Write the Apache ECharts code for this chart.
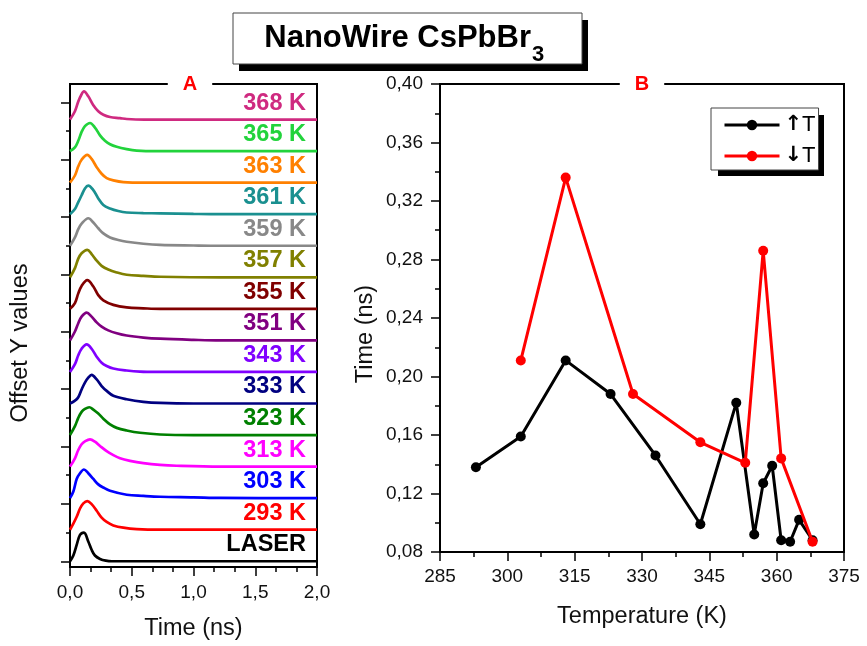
<!DOCTYPE html>
<html>
<head>
<meta charset="utf-8">
<script src="https://cdn.jsdelivr.net/npm/echarts@6/dist/echarts.min.js"></script>
<style>
html,body{margin:0;padding:0;background:#fff;}
#chart{width:867px;height:646px;}
</style>
</head>
<body>
<div id="chart"></div>
<script>
// ---------------- DATA ----------------
// Panel A: normalized decay curves [time (ns), normalized intensity]
const curveNames = ['LASER','293 K','303 K','313 K','323 K','333 K','343 K','351 K','355 K','357 K','359 K','361 K','363 K','365 K','368 K'];
const curveLASER = [[0,0],[0.027,0.2],[0.054,0.57],[0.081,0.92],[0.113,1.0],[0.148,0.69],[0.175,0.40],[0.202,0.2],[0.243,0.08],[0.29,0.02],[0.34,0],[2,0]];
const curve293 = [[0,0],[0.027,0.21],[0.054,0.45],[0.081,0.74],[0.108,0.92],[0.14,1.0],[0.175,0.89],[0.216,0.66],[0.256,0.42],[0.297,0.27],[0.351,0.15],[0.432,0.07],[0.54,0.02],[0.73,0],[2,0]];
const curve303 = [[0,0],[0.027,0.23],[0.054,0.67],[0.081,0.87],[0.113,1.0],[0.148,0.87],[0.189,0.67],[0.229,0.48],[0.27,0.37],[0.324,0.26],[0.459,0.12],[0.594,0.08],[0.729,0.05],[1.0,0.03],[1.22,0.01],[2,0]];
const curve313 = [[0,0],[0.04,0.29],[0.067,0.58],[0.094,0.78],[0.121,0.88],[0.162,0.95],[0.202,0.87],[0.243,0.72],[0.297,0.54],[0.351,0.40],[0.405,0.29],[0.486,0.20],[0.594,0.12],[0.729,0.06],[0.864,0.03],[1.215,0],[2,0]];
const curve323 = [[0,0],[0.04,0.31],[0.067,0.60],[0.094,0.81],[0.121,0.91],[0.156,0.97],[0.189,0.89],[0.229,0.75],[0.27,0.57],[0.324,0.37],[0.378,0.25],[0.459,0.16],[0.567,0.08],[0.729,0.02],[1.0,0],[2,0]];
const curve333 = [[0,0],[0.04,0.1],[0.067,0.22],[0.094,0.49],[0.121,0.73],[0.148,0.9],[0.175,1.0],[0.216,0.84],[0.256,0.61],[0.297,0.44],[0.351,0.27],[0.459,0.15],[0.594,0.06],[0.729,0.02],[1.0,0],[2,0]];
const curve343 = [[0,0],[0.04,0.27],[0.067,0.58],[0.094,0.81],[0.135,0.96],[0.175,0.81],[0.216,0.53],[0.256,0.32],[0.297,0.21],[0.351,0.12],[0.459,0.05],[0.567,0.01],[0.7,0],[2,0]];
const curve351 = [[0,0],[0.04,0.31],[0.067,0.60],[0.094,0.83],[0.135,0.97],[0.175,0.83],[0.216,0.63],[0.256,0.48],[0.31,0.35],[0.378,0.25],[0.459,0.17],[0.594,0.10],[0.729,0.06],[1.0,0.02],[1.215,0],[2,0]];
const curve355 = [[0,0],[0.04,0.2],[0.067,0.54],[0.094,0.80],[0.14,1.0],[0.189,0.78],[0.229,0.48],[0.27,0.3],[0.351,0.14],[0.459,0.05],[0.594,0.02],[0.729,0],[2,0]];
const curve357 = [[0,0],[0.04,0.32],[0.067,0.65],[0.094,0.84],[0.14,0.96],[0.175,0.81],[0.216,0.58],[0.256,0.40],[0.31,0.27],[0.378,0.17],[0.459,0.09],[0.594,0.05],[0.729,0.02],[1.215,0],[2,0]];
const curve359 = [[0,0],[0.04,0.29],[0.067,0.58],[0.094,0.77],[0.148,0.96],[0.189,0.81],[0.229,0.61],[0.27,0.43],[0.324,0.29],[0.391,0.20],[0.459,0.14],[0.594,0.07],[0.729,0.03],[1.0,0.01],[1.215,0],[2,0]];
const curve361 = [[0,0],[0.04,0.18],[0.067,0.42],[0.094,0.66],[0.121,0.9],[0.148,1.0],[0.189,0.84],[0.229,0.55],[0.27,0.32],[0.324,0.2],[0.391,0.11],[0.459,0.06],[0.594,0.04],[0.729,0.03],[1.0,0.01],[1.215,0],[2,0]];
const curve363 = [[0,0],[0.04,0.25],[0.067,0.57],[0.094,0.80],[0.14,0.97],[0.175,0.83],[0.216,0.54],[0.256,0.31],[0.297,0.16],[0.351,0.08],[0.432,0.02],[0.6,0],[2,0]];
const curve365 = [[0,0],[0.04,0.13],[0.067,0.36],[0.094,0.67],[0.121,0.87],[0.162,0.98],[0.202,0.82],[0.243,0.55],[0.283,0.36],[0.324,0.24],[0.378,0.15],[0.459,0.07],[0.54,0.02],[0.7,0],[2,0]];
const curve368 = [[0,0],[0.04,0.29],[0.067,0.63],[0.089,0.84],[0.113,0.98],[0.148,0.81],[0.189,0.50],[0.229,0.29],[0.27,0.17],[0.324,0.09],[0.405,0.05],[0.459,0.02],[0.6,0],[2,0]];
const curves = [curveLASER,curve293,curve303,curve313,curve323,curve333,curve343,curve351,curve355,curve357,curve359,curve361,curve363,curve365,curve368];
const offsetStep = 1.1;            // vertical offset between stacked curves
const yTicksMajorA = [0,2,4,6,8,10,12,14,16];
const yTicksMinorA = [1,3,5,7,9,11,13,15];

// Panel B: lifetime vs temperature
const tempUp   = [293,303,313,323,333,343,351,355,357,359,361,363,365,368];
const tauUp    = [0.138,0.159,0.211,0.188,0.146,0.099,0.182,0.092,0.127,0.139,0.088,0.087,0.102,0.088];
const tempDown = [303,313,328,343,353,357,361,368];
const tauDown  = [0.211,0.336,0.188,0.155,0.141,0.286,0.144,0.087];
const legendNames = ['\u2191T','\u2193T'];

// ---------------- STYLE ----------------
const FONT = '"Liberation Sans", Arial, Helvetica, sans-serif';
const curveColors = ['#000000','#ff0000','#0000ff','#ff00ff','#008000','#000080','#8000ff','#800080','#800000','#808000','#888888','#1a9090','#ff8000','#22d33c','#cf2a80'];

const chart = echarts.init(document.getElementById('chart'), null, {renderer:'canvas'});

const tickLabel = {fontFamily: FONT, fontSize: 19, color: '#111'};
const series = [];
curves.forEach((c, i) => {
  series.push({
    type: 'line', xAxisIndex: 0, yAxisIndex: 0,
    data: c.map(p => [p[0], p[1] + i * offsetStep]),
    showSymbol: false, symbol: 'none', smooth: 0.35,
    lineStyle: {color: curveColors[i], width: 2.7},
    itemStyle: {color: curveColors[i]},
    silent: true, animation: false, z: 3
  });
  series.push({
    type: 'scatter', xAxisIndex: 0, yAxisIndex: 0,
    data: [[2, i * offsetStep]],
    symbolSize: 0, itemStyle: {color: curveColors[i], opacity: 1},
    label: {show: true, position: 'inside', formatter: curveNames[i],
      align: 'right', verticalAlign: 'middle', offset: [-11, -16.5],
      fontFamily: FONT, fontWeight: 'bold', fontSize: 23.5, color: curveColors[i],
      textBorderWidth: 0, opacity: 1},
    silent: true, animation: false, z: 4
  });
});
series.push({
  name: legendNames[0], type: 'line', xAxisIndex: 1, yAxisIndex: 2,
  data: tempUp.map((t, k) => [t, tauUp[k]]),
  symbol: 'circle', symbolSize: 10,
  lineStyle: {color: '#000', width: 3}, itemStyle: {color: '#000'},
  animation: false, z: 3
});
series.push({
  name: legendNames[1], type: 'line', xAxisIndex: 1, yAxisIndex: 2,
  data: tempDown.map((t, k) => [t, tauDown[k]]),
  symbol: 'circle', symbolSize: 10,
  lineStyle: {color: '#ff0000', width: 3}, itemStyle: {color: '#ff0000'},
  animation: false, z: 4
});

const axisLineStyle = {show: true, onZero: false, lineStyle: {color: '#000', width: 2}};

const option = {
  animation: false,
  backgroundColor: '#fff',
  grid: [
    {left: 70, top: 84, width: 247, height: 487, show: true, borderColor: '#000', borderWidth: 2, backgroundColor: 'transparent', containLabel: false},
    {left: 440, top: 84, width: 404, height: 468, show: true, borderColor: '#000', borderWidth: 2, backgroundColor: 'transparent', containLabel: false}
  ],
  xAxis: [
    {type: 'value', gridIndex: 0, min: 0, max: 2, interval: 0.5,
     axisLine: axisLineStyle,
     axisTick: {show: true, inside: false, length: 9, lineStyle: {color: '#000', width: 1.5}},
     minorTick: {show: true, splitNumber: 3, length: 5, lineStyle: {color: '#000', width: 1.5}},
     splitLine: {show: false}, minorSplitLine: {show: false},
     axisLabel: Object.assign({margin: 16, formatter: v => v.toFixed(1).replace('.', ','), showMinLabel: true, showMaxLabel: true}, tickLabel),
     name: 'Time (ns)', nameLocation: 'middle', nameGap: 50,
     nameTextStyle: {fontFamily: FONT, fontSize: 23.5, color: '#111'}},
    {type: 'value', gridIndex: 1, min: 285, max: 375, interval: 15,
     axisLine: axisLineStyle,
     axisTick: {show: true, inside: false, length: 9, lineStyle: {color: '#000', width: 1.5}},
     minorTick: {show: true, splitNumber: 2, length: 5, lineStyle: {color: '#000', width: 1.5}},
     splitLine: {show: false}, minorSplitLine: {show: false},
     axisLabel: Object.assign({margin: 15, showMinLabel: true, showMaxLabel: true}, tickLabel),
     name: 'Temperature (K)', nameLocation: 'middle', nameGap: 53,
     nameTextStyle: {fontFamily: FONT, fontSize: 23.5, color: '#111'}}
  ],
  yAxis: [
    {type: 'value', gridIndex: 0, min: -0.2, max: 16.64, interval: 1, scale: true,
     axisLine: axisLineStyle,
     axisTick: {show: true, inside: false, length: 9, customValues: yTicksMajorA, lineStyle: {color: '#000', width: 1.5}},
     axisLabel: {show: false, customValues: yTicksMajorA},
     splitLine: {show: false}},
    {type: 'value', gridIndex: 0, min: -0.2, max: 16.64, interval: 1, scale: true, position: 'left',
     axisLine: {show: false},
     axisTick: {show: true, inside: false, length: 4, customValues: yTicksMinorA, lineStyle: {color: '#000', width: 1.5}},
     axisLabel: {show: false, customValues: yTicksMinorA},
     splitLine: {show: false}},
    {type: 'value', gridIndex: 1, min: 0.08, max: 0.40, interval: 0.04,
     axisLine: axisLineStyle,
     axisTick: {show: true, inside: false, length: 9, lineStyle: {color: '#000', width: 1.5}},
     minorTick: {show: true, splitNumber: 2, length: 5, lineStyle: {color: '#000', width: 1.5}},
     splitLine: {show: false}, minorSplitLine: {show: false},
     axisLabel: Object.assign({margin: 17, formatter: v => v.toFixed(2).replace('.', ','), showMinLabel: true, showMaxLabel: true}, tickLabel)}
  ],
  legend: {
    data: legendNames, orient: 'vertical', left: 711, top: 108,
    itemWidth: 55, itemHeight: 13, itemGap: 9,
    padding: [6, 3, 3, 12],
    backgroundColor: '#fff', borderColor: '#444', borderWidth: 1,
    lineStyle: {width: 3},
    formatter: n => '{a|' + n.charAt(0) + '}{t|' + n.slice(1) + '}',
    textStyle: {fontFamily: FONT, fontSize: 22, color: '#000',
      rich: {a: {fontFamily: '"DejaVu Sans", sans-serif', fontWeight: 'bold', fontSize: 21, color: '#000'},
             t: {fontFamily: FONT, fontSize: 22, color: '#000'}}},
    selectedMode: false, z: 6
  },
  graphic: [
    {type: 'rect', shape: {x: 718, y: 115, width: 106, height: 61}, style: {fill: '#000'}, z: 1},
    {type: 'rect', shape: {x: 239, y: 20, width: 349, height: 51}, style: {fill: '#000'}, z: 10},
    {type: 'rect', shape: {x: 233, y: 13, width: 349, height: 51}, style: {fill: '#fff', stroke: '#444', lineWidth: 1}, z: 11},
    {type: 'text', x: 531, y: 38, style: {text: 'NanoWire CsPbBr', font: 'bold 31px ' + FONT, fill: '#000', textAlign: 'right', textVerticalAlign: 'middle'}, z: 12},
    {type: 'text', x: 532, y: 55, style: {text: '3', font: 'bold 22px ' + FONT, fill: '#000', textAlign: 'left', textVerticalAlign: 'middle'}, z: 12},
    {type: 'text', x: 190, y: 84, style: {text: 'A', font: 'bold 20px ' + FONT, fill: '#ff0000', textAlign: 'center', textVerticalAlign: 'middle', backgroundColor: '#fff', padding: [2, 15]}, z: 12},
    {type: 'text', x: 642, y: 84, style: {text: 'B', font: 'bold 20px ' + FONT, fill: '#ff0000', textAlign: 'center', textVerticalAlign: 'middle', backgroundColor: '#fff', padding: [2, 15]}, z: 12},
    {type: 'text', x: 21, y: 343, rotation: Math.PI / 2, style: {text: 'Offset Y values', font: '23.5px ' + FONT, fill: '#111', textAlign: 'center', textVerticalAlign: 'middle'}, z: 12},
    {type: 'text', x: 366, y: 334, rotation: Math.PI / 2, style: {text: 'Time (ns)', font: '23.5px ' + FONT, fill: '#111', textAlign: 'center', textVerticalAlign: 'middle'}, z: 12}
  ],
  series: series
};
chart.setOption(option);
</script>
</body>
</html>
